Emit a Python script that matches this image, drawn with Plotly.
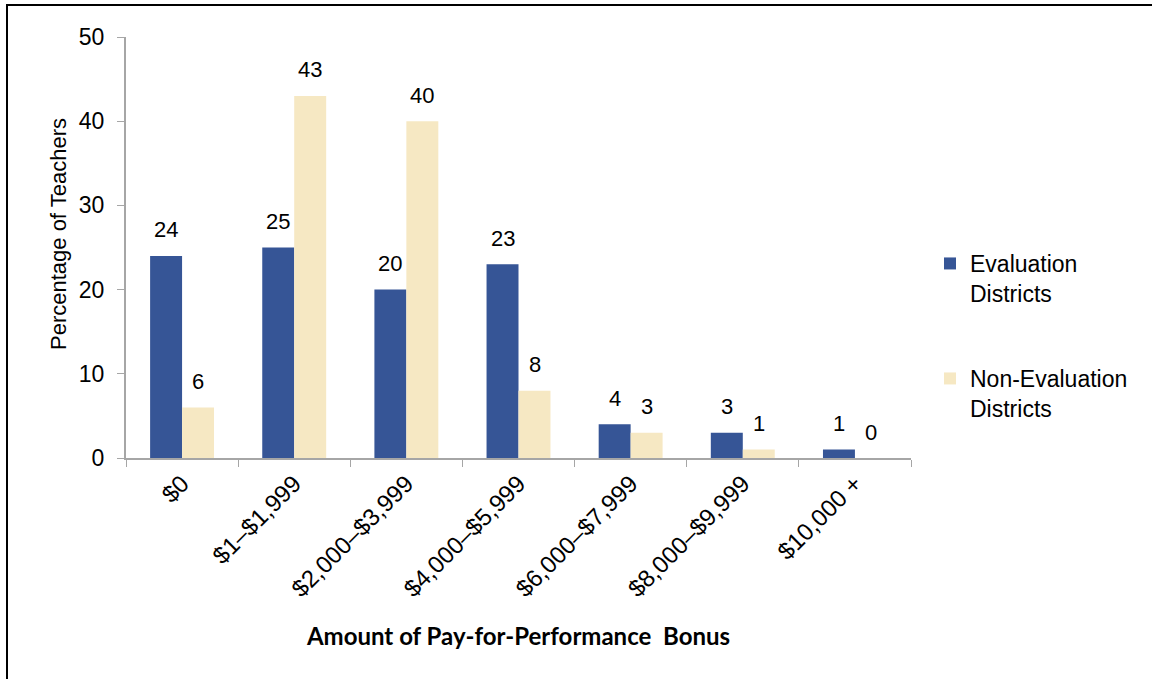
import plotly.graph_objects as go

categories = ["$0", "$1–$1,999", "$2,000–$3,999", "$4,000–$5,999",
              "$6,000–$7,999", "$8,000–$9,999", "$10,000 +"]
evaluation = [24, 25, 20, 23, 4, 3, 1]
non_evaluation = [6, 43, 40, 8, 3, 1, 0]
y_ticks = [0, 10, 20, 30, 40, 50]

W, H = 1152, 679
ml, mt = 126, 37
pw, ph = 785, 421
mr, mb = W - ml - pw, H - mt - ph

font = "Liberation Sans, Arial, sans-serif"
blue, cream = "#365596", "#F6E8C3"


def px_x(p):  # pixel x -> paper fraction
    return (p - ml) / pw


def px_y(p):  # pixel y -> paper fraction
    return (mt + ph - p) / ph


fig = go.Figure()
fig.add_trace(go.Bar(
    x=categories, y=evaluation, name="Evaluation<br>Districts",
    marker=dict(color=blue, line=dict(width=0)), legend="legend",
))
fig.add_trace(go.Bar(
    x=categories, y=non_evaluation, name="Non-Evaluation<br>Districts",
    marker=dict(color=cream, line=dict(width=0)), legend="legend2",
))

for series, dx in ((evaluation, -16), (non_evaluation, 16)):
    for c, v in zip(categories, series):
        fig.add_annotation(x=c, y=v, xref="x", yref="y", text=str(v),
                           showarrow=False, xshift=dx, yshift=26,
                           yanchor="middle",
                           font=dict(size=22, family=font, color="#000000"))

# y-axis title
fig.add_annotation(xref="paper", yref="paper", x=px_x(58), y=px_y(234),
                   text="Percentage of Teachers", textangle=-90,
                   showarrow=False, xanchor="center", yanchor="middle",
                   font=dict(size=22, family=font, color="#000000"))

# outer border
fig.add_shape(type="rect", xref="paper", yref="paper",
              x0=px_x(7), x1=px_x(1170), y0=px_y(700), y1=px_y(5),
              line=dict(color="#000000", width=2), fillcolor="rgba(0,0,0,0)",
              layer="below")

legend_common = dict(xanchor="left", yanchor="top", valign="top",
                     font=dict(size=23, family=font, color="#000000"),
                     itemwidth=30, bgcolor="rgba(0,0,0,0)")

fig.update_layout(
    width=W, height=H,
    margin=dict(l=ml, r=mr, t=mt, b=mb),
    paper_bgcolor="white", plot_bgcolor="white",
    barmode="group", bargap=0.43, bargroupgap=0,
    font=dict(family=font, size=22, color="#000000"),
    showlegend=True,
    legend=dict(x=px_x(930), y=px_y(242), **legend_common),
    legend2=dict(x=px_x(930), y=px_y(357), **legend_common),
)
fig.update_xaxes(
    type="category", tickson="boundaries", ticks="outside", ticklen=7,
    tickcolor="#A6A6A6", showline=True, linecolor="#A6A6A6", linewidth=2,
    tickangle=-45, tickfont=dict(size=24, family=font),
    title=dict(text="<b>Amount of Pay-for-Performance  Bonus</b>",
               font=dict(size=24, family="Lato, Open Sans, sans-serif"),
               standoff=27),
    showgrid=False, range=[-0.5, 6.5],
)
fig.update_yaxes(
    range=[0, 50], tickvals=y_ticks, ticks="outside", ticklen=7,
    tickcolor="#A6A6A6", showline=True, linecolor="#A6A6A6", linewidth=2,
    showgrid=False, zeroline=False, ticklabelstandoff=8,
    tickfont=dict(size=23, family=font),
)

fig.write_html("out.html", config={"displayModeBar": False},
               post_script="document.body.style.margin='0';")
